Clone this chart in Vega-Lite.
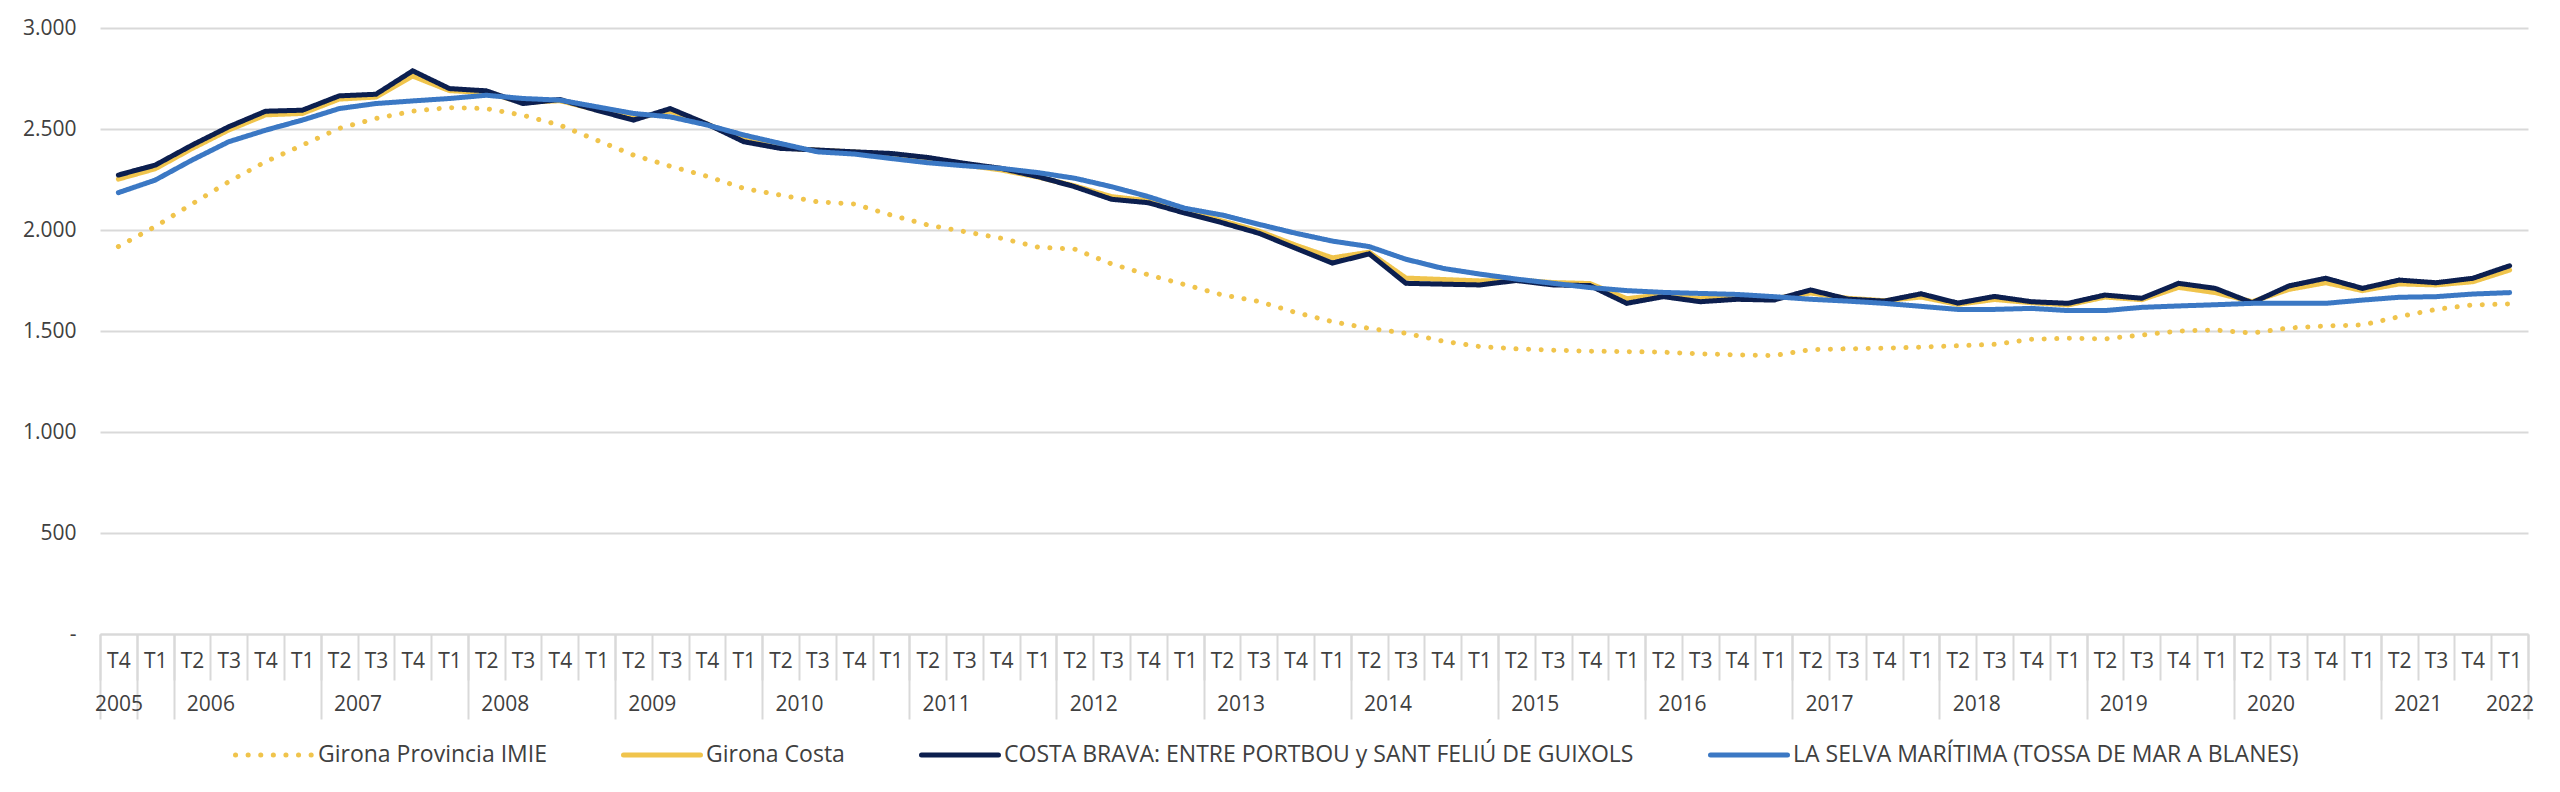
{
  "$schema": "https://vega.github.io/schema/vega-lite/v6.json",
  "width": 2428,
  "height": 606,
  "autosize": {"type": "none"},
  "padding": {"left": 100, "top": 28, "right": 32, "bottom": 158},
  "background": "white",
  "config": {"view": {"stroke": null}, "font": "Open Sans"},
  "data": {"values": [
    {"p": "2005 T4", "imie": 1918, "costa": 2252, "costaBrava": 2272, "selva": 2185},
    {"p": "2006 T1", "imie": 2017, "costa": 2303, "costaBrava": 2321, "selva": 2247},
    {"p": "2006 T2", "imie": 2129, "costa": 2403, "costaBrava": 2420, "selva": 2346},
    {"p": "2006 T3", "imie": 2239, "costa": 2495, "costaBrava": 2511, "selva": 2437},
    {"p": "2006 T4", "imie": 2338, "costa": 2570, "costaBrava": 2588, "selva": 2494},
    {"p": "2007 T1", "imie": 2420, "costa": 2577, "costaBrava": 2593, "selva": 2544},
    {"p": "2007 T2", "imie": 2503, "costa": 2648, "costaBrava": 2664, "selva": 2601},
    {"p": "2007 T3", "imie": 2552, "costa": 2658, "costaBrava": 2672, "selva": 2626},
    {"p": "2007 T4", "imie": 2588, "costa": 2762, "costaBrava": 2788, "selva": 2639},
    {"p": "2008 T1", "imie": 2606, "costa": 2690, "costaBrava": 2700, "selva": 2651},
    {"p": "2008 T2", "imie": 2601, "costa": 2680, "costaBrava": 2689, "selva": 2667},
    {"p": "2008 T3", "imie": 2568, "costa": 2632, "costaBrava": 2626, "selva": 2651},
    {"p": "2008 T4", "imie": 2519, "costa": 2640, "costaBrava": 2646, "selva": 2643},
    {"p": "2009 T1", "imie": 2445, "costa": 2595, "costaBrava": 2593, "selva": 2610},
    {"p": "2009 T2", "imie": 2371, "costa": 2552, "costaBrava": 2544, "selva": 2577},
    {"p": "2009 T3", "imie": 2316, "costa": 2588, "costaBrava": 2601, "selva": 2560},
    {"p": "2009 T4", "imie": 2266, "costa": 2525, "costaBrava": 2525, "selva": 2520},
    {"p": "2010 T1", "imie": 2206, "costa": 2445, "costaBrava": 2437, "selva": 2470},
    {"p": "2010 T2", "imie": 2173, "costa": 2408, "costaBrava": 2404, "selva": 2428},
    {"p": "2010 T3", "imie": 2140, "costa": 2395, "costaBrava": 2396, "selva": 2387},
    {"p": "2010 T4", "imie": 2129, "costa": 2386, "costaBrava": 2387, "selva": 2376},
    {"p": "2011 T1", "imie": 2074, "costa": 2375, "costaBrava": 2379, "selva": 2354},
    {"p": "2011 T2", "imie": 2025, "costa": 2350, "costaBrava": 2359, "selva": 2333},
    {"p": "2011 T3", "imie": 1992, "costa": 2322, "costaBrava": 2330, "selva": 2318},
    {"p": "2011 T4", "imie": 1959, "costa": 2297, "costaBrava": 2305, "selva": 2305},
    {"p": "2012 T1", "imie": 1915, "costa": 2262, "costaBrava": 2264, "selva": 2284},
    {"p": "2012 T2", "imie": 1905, "costa": 2218, "costaBrava": 2214, "selva": 2256},
    {"p": "2012 T3", "imie": 1832, "costa": 2165, "costaBrava": 2152, "selva": 2214},
    {"p": "2012 T4", "imie": 1778, "costa": 2145, "costaBrava": 2135, "selva": 2165},
    {"p": "2013 T1", "imie": 1729, "costa": 2095, "costaBrava": 2083, "selva": 2107},
    {"p": "2013 T2", "imie": 1679, "costa": 2045, "costaBrava": 2036, "selva": 2074},
    {"p": "2013 T3", "imie": 1646, "costa": 1995, "costaBrava": 1984, "selva": 2028},
    {"p": "2013 T4", "imie": 1592, "costa": 1925, "costaBrava": 1910, "selva": 1984},
    {"p": "2014 T1", "imie": 1546, "costa": 1862, "costaBrava": 1836, "selva": 1945},
    {"p": "2014 T2", "imie": 1513, "costa": 1890, "costaBrava": 1882, "selva": 1918},
    {"p": "2014 T3", "imie": 1489, "costa": 1762, "costaBrava": 1736, "selva": 1855},
    {"p": "2014 T4", "imie": 1450, "costa": 1755, "costaBrava": 1732, "selva": 1810},
    {"p": "2015 T1", "imie": 1423, "costa": 1748, "costaBrava": 1728, "selva": 1782},
    {"p": "2015 T2", "imie": 1412, "costa": 1752, "costaBrava": 1750, "selva": 1757},
    {"p": "2015 T3", "imie": 1405, "costa": 1740, "costaBrava": 1728, "selva": 1736},
    {"p": "2015 T4", "imie": 1400, "costa": 1735, "costaBrava": 1725, "selva": 1715},
    {"p": "2016 T1", "imie": 1398, "costa": 1660, "costaBrava": 1637, "selva": 1700},
    {"p": "2016 T2", "imie": 1395, "costa": 1680, "costaBrava": 1670, "selva": 1691},
    {"p": "2016 T3", "imie": 1387, "costa": 1660, "costaBrava": 1645, "selva": 1686},
    {"p": "2016 T4", "imie": 1382, "costa": 1668, "costaBrava": 1657, "selva": 1681},
    {"p": "2017 T1", "imie": 1378, "costa": 1660, "costaBrava": 1653, "selva": 1670},
    {"p": "2017 T2", "imie": 1408, "costa": 1688, "costaBrava": 1703, "selva": 1657},
    {"p": "2017 T3", "imie": 1412, "costa": 1662, "costaBrava": 1658, "selva": 1648},
    {"p": "2017 T4", "imie": 1415, "costa": 1650, "costaBrava": 1648, "selva": 1637},
    {"p": "2018 T1", "imie": 1420, "costa": 1668, "costaBrava": 1684, "selva": 1622},
    {"p": "2018 T2", "imie": 1427, "costa": 1632, "costaBrava": 1638, "selva": 1607},
    {"p": "2018 T3", "imie": 1434, "costa": 1656, "costaBrava": 1671, "selva": 1607},
    {"p": "2018 T4", "imie": 1459, "costa": 1640, "costaBrava": 1645, "selva": 1612},
    {"p": "2019 T1", "imie": 1464, "costa": 1629, "costaBrava": 1637, "selva": 1601},
    {"p": "2019 T2", "imie": 1461, "costa": 1668, "costaBrava": 1678, "selva": 1601},
    {"p": "2019 T3", "imie": 1480, "costa": 1655, "costaBrava": 1662, "selva": 1617},
    {"p": "2019 T4", "imie": 1500, "costa": 1716, "costaBrava": 1736, "selva": 1624},
    {"p": "2020 T1", "imie": 1505, "costa": 1690, "costaBrava": 1711, "selva": 1630},
    {"p": "2020 T2", "imie": 1490, "costa": 1645, "costaBrava": 1640, "selva": 1637},
    {"p": "2020 T3", "imie": 1515, "costa": 1706, "costaBrava": 1723, "selva": 1637},
    {"p": "2020 T4", "imie": 1525, "costa": 1739, "costaBrava": 1761, "selva": 1637},
    {"p": "2021 T1", "imie": 1530, "costa": 1700, "costaBrava": 1711, "selva": 1653},
    {"p": "2021 T2", "imie": 1571, "costa": 1733, "costaBrava": 1752, "selva": 1667},
    {"p": "2021 T3", "imie": 1607, "costa": 1728, "costaBrava": 1739, "selva": 1670},
    {"p": "2021 T4", "imie": 1629, "costa": 1744, "costaBrava": 1761, "selva": 1683},
    {"p": "2022 T1", "imie": 1634, "costa": 1802, "costaBrava": 1823, "selva": 1690}
  ]},
  "transform": [{"fold": ["imie", "costa", "costaBrava", "selva"], "as": ["serie", "precio"]}],
  "layer": [
    {
      "mark": {"type": "line", "strokeWidth": 5, "strokeCap": "round"},
      "encoding": {
        "x": {
          "field": "p", "type": "ordinal", "sort": null, "bandPosition": 0.5,
          "scale": {"type": "band", "paddingInner": 0, "paddingOuter": 0},
          "axis": {
            "title": null, "orient": "bottom",
            "labelExpr": "datum.value ? split(datum.value, ' ')[1] : ''",
            "tickBand": "extent", "tickSize": 46, "tickColor": "#d9d9d9", "tickWidth": 2,
            "domainColor": "#d9d9d9", "domainWidth": 2,
            "labelBaseline": "middle", "labelPadding": -19, "labelAngle": 0,
            "labelFontSize": 21, "labelColor": "#404040", "labelOverlap": false,
            "grid": false
          }
        },
        "y": {
          "field": "precio", "type": "quantitative",
          "scale": {"domain": [0, 3000], "nice": false},
          "axis": {
            "title": null, "values": [0, 500, 1000, 1500, 2000, 2500, 3000],
            "labelExpr": "datum.value == 0 ? '-' : replace(format(datum.value, ','), ',', '.')",
            "domain": false, "ticks": false,
            "gridColor": "#d9d9d9", "gridWidth": 2,
            "labelFontSize": 21, "labelColor": "#404040", "labelPadding": 24
          }
        },
        "color": {
          "field": "serie", "type": "nominal",
          "scale": {"domain": ["imie", "costa", "costaBrava", "selva"], "range": ["#f0c44c", "#f0c44c", "#0c1f4f", "#3b78c4"]},
          "legend": {
            "orient": "none", "legendX": 133, "legendY": 686, "direction": "horizontal",
            "title": null, "symbolType": "stroke", "symbolSize": 5929, "symbolStrokeWidth": 5,
            "labelFontSize": 23, "labelColor": "#404040", "labelOffset": 3, "columnPadding": 66,
            "labelLimit": 0,
            "labelExpr": "datum.value == 'imie' ? 'Girona Provincia IMIE' : datum.value == 'costa' ? 'Girona Costa' : datum.value == 'costaBrava' ? 'COSTA BRAVA: ENTRE PORTBOU y SANT FELIÚ DE GUIXOLS' : 'LA SELVA MARÍTIMA (TOSSA DE MAR A BLANES)'",
            "encode": {"symbols": {"update": {"strokeCap": {"value": "round"}}}}
          }
        },
        "strokeDash": {
          "field": "serie", "type": "nominal",
          "scale": {"domain": ["imie", "costa", "costaBrava", "selva"], "range": [[0.1, 12.5], [1, 0], [1, 0], [1, 0]]}
        }
      }
    },
    {
      "mark": {"type": "rule", "opacity": 0},
      "encoding": {
        "x": {
          "field": "p", "type": "ordinal", "sort": null,
          "scale": {"type": "band", "paddingInner": 0, "paddingOuter": 0},
          "axis": {
            "title": null, "orient": "bottom", "domain": false, "grid": false,
            "tickBand": "extent", "tickSize": 85, "tickColor": "#d9d9d9", "tickWidth": 2,
            "tickOpacity": {"condition": {"test": "!datum.value || test(/T1$/, datum.value) || datum.value == '2005 T4'", "value": 1}, "value": 0},
            "labelExpr": "(test(/T2$/, datum.value) || datum.value == '2005 T4' || datum.value == '2022 T1') ? substring(datum.value, 0, 4) : ''",
            "labelOffset": {"condition": {"test": "test(/T2$/, datum.value)", "value": 18.4}, "value": 0},
            "labelBaseline": "middle", "labelPadding": -15, "labelAngle": 0,
            "labelFontSize": 21, "labelColor": "#404040", "labelOverlap": false, "labelBound": false
          }
        }
      }
    }
  ],
  "resolve": {"axis": {"x": "independent"}}
}
